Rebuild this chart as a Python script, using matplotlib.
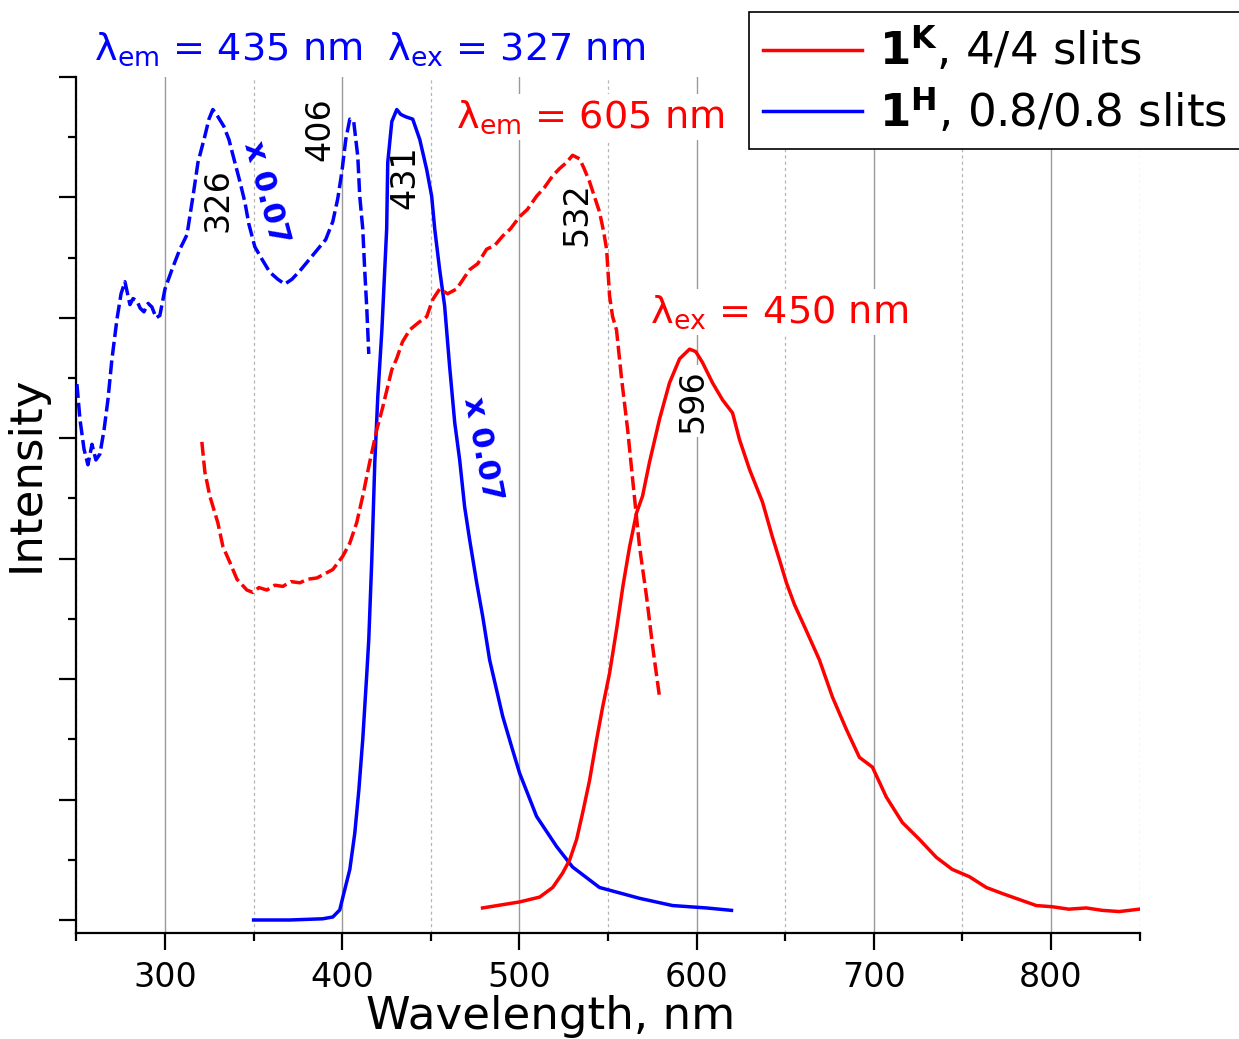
import matplotlib
matplotlib.use('Agg')
import matplotlib.pyplot as plt
from matplotlib.ticker import MultipleLocator, NullFormatter
from matplotlib.lines import Line2D

plt.rcParams['font.family'] = ['DejaVu Sans']
plt.rcParams['mathtext.fontset'] = 'dejavusans'

# ---- data (wavelength nm, intensity a.u.) ----
# 1H excitation (lambda_em = 435 nm), x0.07, dashed blue
h_ex_x = [250.3, 252.0, 254.3, 256.5, 258.8, 261.0, 263.3, 265.6, 267.8, 270.0, 272.9, 275.2, 277.4,
          280.2, 282.0, 284.2, 286.0, 288.1, 290.5, 292.6, 295.0, 297.1, 300.0, 303.9, 308.4, 312.4,
          315.8, 318.6, 322.5, 324.8, 327.0, 329.9, 333.2, 336.1, 338.9, 342.3, 345.1, 347.3, 350.7,
          354.6, 359.1, 363.7, 367.6, 371.6, 376.1, 380.6, 386.2, 390.7, 394.7, 397.5, 399.8, 402.0,
          404.3, 406.5, 408.8, 409.9, 411.6, 412.7, 413.9, 415.0]
h_ex_y = [4.45, 4.16, 3.91, 3.78, 3.95, 3.82, 3.87, 4.07, 4.32, 4.65, 4.99, 5.20, 5.30,
          5.11, 5.16, 5.14, 5.08, 5.05, 5.12, 5.09, 5.00, 5.02, 5.24, 5.40, 5.57, 5.69,
          6.01, 6.29, 6.51, 6.65, 6.73, 6.67, 6.59, 6.48, 6.32, 6.13, 5.96, 5.78, 5.59,
          5.49, 5.38, 5.32, 5.28, 5.32, 5.39, 5.47, 5.57, 5.65, 5.80, 5.99, 6.21, 6.48,
          6.65, 6.63, 6.34, 6.01, 5.74, 5.40, 5.07, 4.70]

# 1H emission (lambda_ex = 327 nm), x0.07, solid blue
h_em_x = [350.0, 370.5, 389.0, 394.7, 398.6, 400.9, 404.3, 407.1, 409.4, 411.6, 413.9, 415.0, 416.7,
          418.4, 420.1, 422.4, 425.1, 425.7, 428.0, 430.8, 433.0, 435.8, 439.8, 443.8, 447.7, 450.5,
          452.2, 455.0, 457.8, 460.6, 463.5, 466.3, 469.1, 471.9, 475.9, 479.3, 483.2, 490.6, 496.0,
          500.1, 509.7, 521.0, 530.0, 545.2, 567.8, 586.4, 605.6, 619.7]
h_em_y = [0.0, 0.0, 0.01, 0.025, 0.083, 0.22, 0.42, 0.72, 1.08, 1.50, 2.05, 2.33, 2.99,
          3.80, 4.35, 4.90, 5.74, 6.29, 6.63, 6.73, 6.69, 6.67, 6.65, 6.48, 6.23, 6.01,
          5.74, 5.40, 5.10, 4.60, 4.13, 3.82, 3.43, 3.16, 2.80, 2.52, 2.16, 1.69, 1.42,
          1.22, 0.86, 0.61, 0.44, 0.27, 0.18, 0.12, 0.10, 0.08]

# 1K excitation (lambda_em = 605 nm), dashed red
k_ex_x = [320.8, 322.5, 325.3, 329.8, 332.7, 336.6, 340.6, 346.2, 349.6, 353.0, 357.5, 362.0, 366.5,
          371.0, 376.1, 380.5, 385.7, 394.7, 400.3, 404.3, 408.2, 411.6, 415.5, 419.5, 422.9, 428.0,
          430.7, 434.0, 438.1, 443.0, 447.7, 451.0, 455.0, 459.5, 464.6, 471.9, 476.5, 481.5, 486.0,
          490.6, 495.0, 500.1, 504.5, 509.7, 514.0, 518.8, 522.7, 526.6, 530.0, 534.0, 536.5, 539.6,
          542.5, 545.2, 547.5, 549.2, 550.9, 552.6, 554.8, 557.7, 561.1, 563.9, 567.8, 571.8, 575.2,
          579.1]
k_ex_y = [3.97, 3.72, 3.52, 3.30, 3.10, 2.97, 2.83, 2.74, 2.72, 2.76, 2.74, 2.78, 2.77,
          2.81, 2.80, 2.83, 2.84, 2.91, 3.02, 3.13, 3.30, 3.52, 3.80, 4.07, 4.26, 4.57,
          4.66, 4.80, 4.90, 4.96, 5.01, 5.15, 5.24, 5.20, 5.24, 5.40, 5.45, 5.57, 5.60,
          5.68, 5.74, 5.84, 5.90, 6.01, 6.08, 6.18, 6.24, 6.29, 6.35, 6.32, 6.24, 6.13,
          6.00, 5.88, 5.72, 5.57, 5.18, 5.01, 4.90, 4.49, 4.07, 3.66, 3.10, 2.68, 2.27,
          1.85]

# 1K emission (lambda_ex = 450 nm), solid red
k_em_x = [479.2, 500.1, 511.4, 518.8, 524.4, 528.4, 532.3, 535.7, 539.6, 543.6, 547.0, 550.9, 554.8,
          558.5, 562.2, 566.1, 569.5, 573.4, 579.1, 584.7, 590.4, 596.0, 599.5, 603.3, 609.0, 614.6,
          620.3, 624.2, 629.9, 637.2, 642.8, 646.8, 650.7, 655.2, 662.0, 669.3, 676.7, 684.6, 691.9,
          699.2, 707.1, 716.1, 725.7, 735.3, 744.3, 753.9, 763.5, 772.5, 782.1, 791.7, 800.7, 810.0,
          819.9, 829.0, 838.5, 849.8]
k_em_y = [0.10, 0.15, 0.19, 0.27, 0.39, 0.50, 0.67, 0.89, 1.16, 1.50, 1.77, 2.05, 2.41,
          2.78, 3.10, 3.38, 3.52, 3.80, 4.16, 4.46, 4.66, 4.74, 4.72, 4.63, 4.46, 4.32,
          4.21, 3.99, 3.74, 3.47, 3.18, 2.99, 2.80, 2.62, 2.40, 2.16, 1.85, 1.58, 1.35,
          1.27, 1.02, 0.81, 0.67, 0.52, 0.42, 0.36, 0.27, 0.22, 0.17, 0.12, 0.11, 0.09,
          0.10, 0.08, 0.07, 0.09]

legend_labels = [r'$\mathbf{1^{K}}$, 4/4 slits', r'$\mathbf{1^{H}}$, 0.8/0.8 slits']
x_major_ticks = [300, 400, 500, 600, 700, 800]

RED = '#FF0000'
BLUE = '#0000FF'
LW = 2.5

fig = plt.figure(figsize=(12.39, 10.39), dpi=100)
ax = fig.add_axes([0.06166, 0.10202, 0.85811, 0.82387])

ax.plot(h_ex_x, h_ex_y, color=BLUE, lw=LW, dashes=(4.0, 1.4), zorder=3)
ax.plot(h_em_x, h_em_y, color=BLUE, lw=LW, zorder=3)
ax.plot(k_ex_x, k_ex_y, color=RED, lw=LW, dashes=(4.0, 1.4), zorder=3)
ax.plot(k_em_x, k_em_y, color=RED, lw=LW, zorder=3)

ax.set_xlim(250, 850)
ax.set_ylim(-0.108, 7.0)
ax.set_xticks(x_major_ticks)
ax.xaxis.set_minor_locator(MultipleLocator(50))
ax.yaxis.set_major_locator(MultipleLocator(1))
ax.yaxis.set_minor_locator(MultipleLocator(0.5))
ax.yaxis.set_major_formatter(NullFormatter())

ax.grid(which='major', axis='x', color='#9a9a9a', lw=1.0)
ax.grid(which='minor', axis='x', color='#b5b5b5', lw=0.9, ls=(0, (2.5, 2.5)))
ax.set_axisbelow(True)

for s in ['top', 'right']:
    ax.spines[s].set_visible(False)
for s in ['left', 'bottom']:
    ax.spines[s].set_linewidth(1.6)
ax.tick_params(which='major', length=12, width=1.6, labelsize=24, pad=8, color='black')
ax.tick_params(which='minor', length=5.5, width=1.6)

ax.set_xlabel('Wavelength, nm', fontsize=32.5)
ax.set_ylabel('Intensity', fontsize=32.5)
ax.xaxis.set_label_coords(0.4464, -0.072)
ax.yaxis.set_label_coords(-0.027, 0.537)

wbox = dict(facecolor='white', edgecolor='none', pad=3)

# condition labels
ax.text(335.5, 7.23, 'λ$_{\\mathrm{em}}$ = 435 nm', color=BLUE, fontsize=27.5,
        ha='center', va='center', clip_on=False, bbox=wbox, zorder=1.5)
ax.text(498.4, 7.23, 'λ$_{\\mathrm{ex}}$ = 327 nm', color=BLUE, fontsize=27.5,
        ha='center', va='center', clip_on=False, bbox=wbox, zorder=1.5)
ax.text(540.0, 6.67, 'λ$_{\\mathrm{em}}$ = 605 nm', color=RED, fontsize=27.5,
        ha='center', va='center', bbox=wbox, zorder=1.5)
ax.text(646.8, 5.05, 'λ$_{\\mathrm{ex}}$ = 450 nm', color=RED, fontsize=27.5,
        ha='center', va='center', bbox=wbox, zorder=1.5)

# peak labels
peaks = [(330.0, 5.98, '326'), (387.4, 6.57, '406'), (435.3, 6.17, '431'),
         (532.2, 5.86, '532'), (597.7, 4.31, '596')]
for px, py, t in peaks:
    ax.text(px, py, t, rotation=90, fontsize=24, ha='center', va='center',
            color='black', bbox=wbox, zorder=1.5)

# scale labels
ax.text(357.0, 6.04, 'x 0.07', rotation=-75, fontsize=22, fontweight='bold',
        color=BLUE, ha='center', va='center', rotation_mode='anchor', zorder=1.6)
ax.text(479.3, 3.91, 'x 0.07', rotation=-79, fontsize=22, fontweight='bold',
        color=BLUE, ha='center', va='center', rotation_mode='anchor', zorder=1.6)

handles = [Line2D([], [], color=RED, lw=LW), Line2D([], [], color=BLUE, lw=LW)]
leg = fig.legend(handles, legend_labels, loc='upper left', bbox_to_anchor=(0.6045, 0.9885),
                 fontsize=32.5, frameon=True, fancybox=False, edgecolor='black',
                 handlelength=2.21, handletextpad=0.36, labelspacing=0.28, borderpad=0.30,
                 borderaxespad=0, framealpha=1)
leg.get_frame().set_linewidth(1.2)

fig.savefig('out.png', dpi=100)
